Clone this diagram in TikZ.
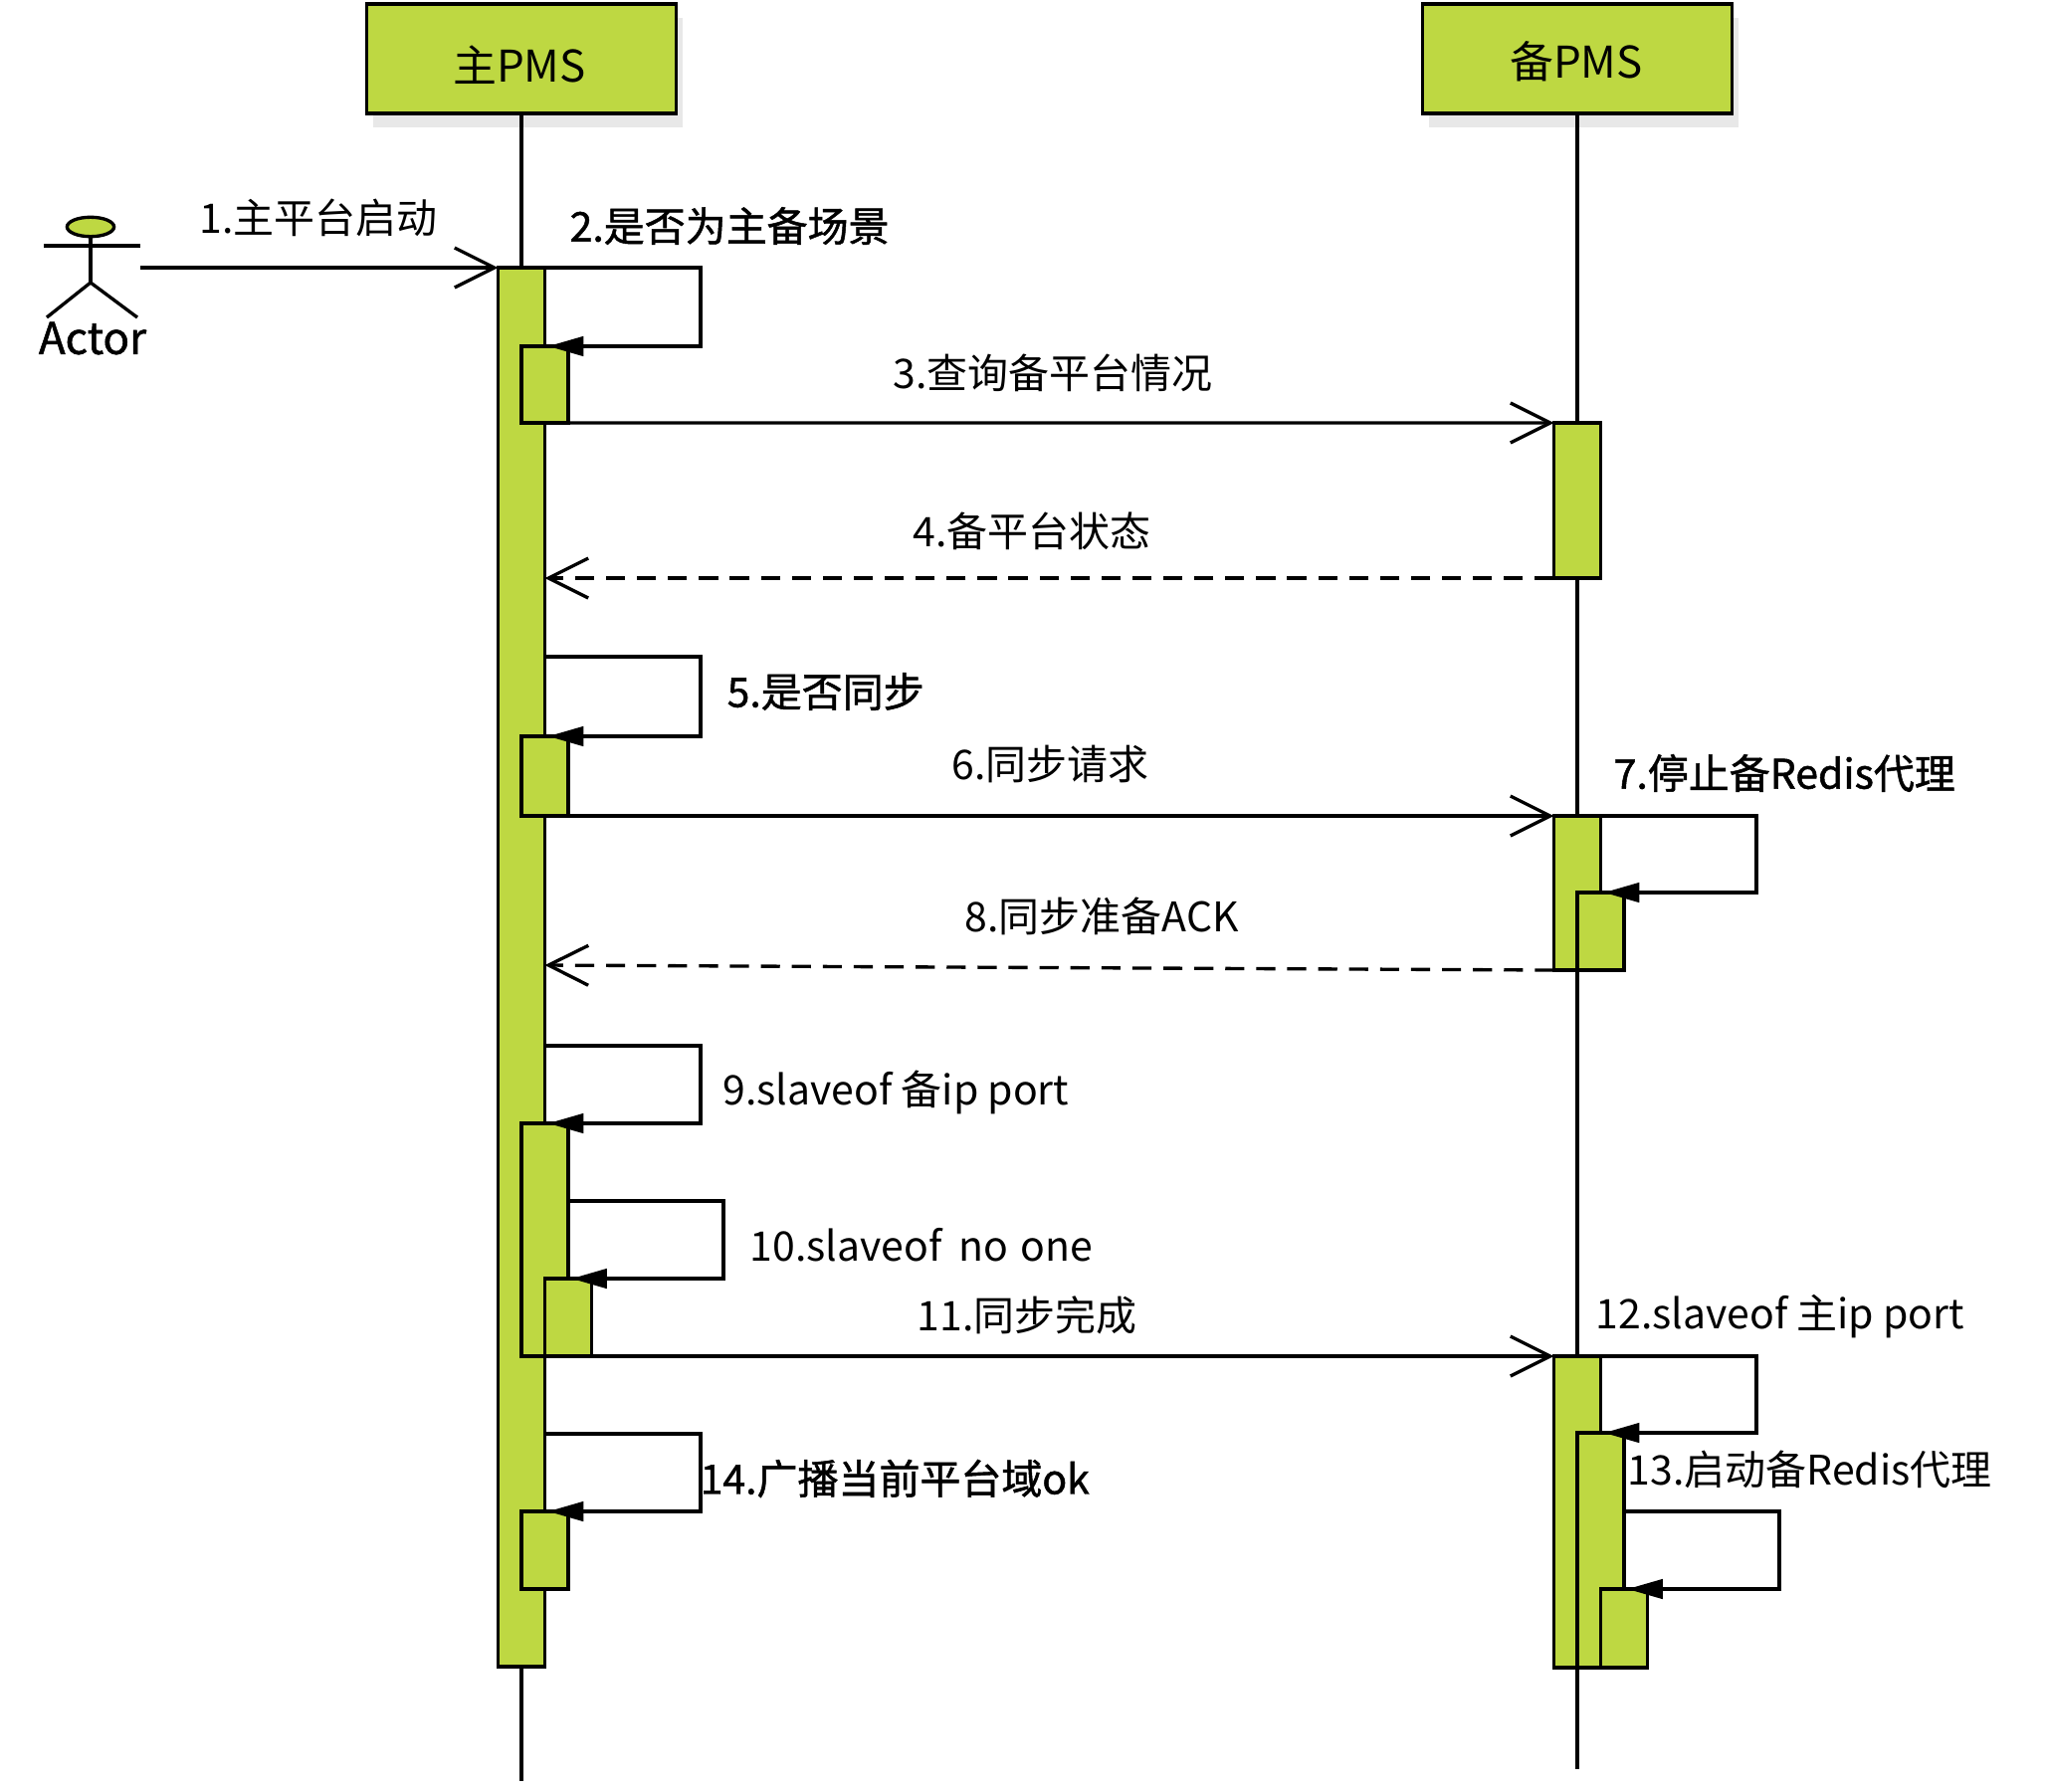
\documentclass[tikz,border=0pt]{standalone}
\usepackage{fontspec}
\usepackage{xcolor}
\setmainfont{Noto Sans CJK SC}
\newfontfamily\heavyfont[FakeBold=1.2]{Noto Sans CJK SC}
\usepackage{tikz}
\usetikzlibrary{arrows.meta,shapes.geometric,shadows}
\definecolor{pmsgreen}{RGB}{190,216,66}
\tikzset{every picture/.style={line width=1.2pt}}
\tikzset{
  headbox/.style={draw,fill=pmsgreen,minimum width=112pt,minimum height=39.6pt,inner sep=0pt,outer sep=0pt,
    drop shadow={shadow xshift=2.4pt,shadow yshift=-5pt,fill=black!9,opacity=1}},
  headname/.style={inner sep=0pt,font=\fontsize{15.8}{18}\selectfont},
  actbar/.style={draw,fill=pmsgreen,minimum width=16.92pt,minimum height=#1*0.36pt,inner sep=0pt,outer sep=0pt,anchor=north},
  callline/.style={-{Straight Barb[length=14.4pt,width=14.4pt]}},
  backline/.style={callline,dash pattern=on 6.9pt off 4.3pt},
  selfline/.style={-{Triangle[length=12.8pt,width=7pt]},shorten >=1.2pt},
  msglabel/.style={anchor=west,inner sep=0pt,font=\fontsize{14.75}{17}\selectfont},
  heavylabel/.style={anchor=west,inner sep=0pt,font=\fontsize{14.75}{17}\heavyfont},
}
\begin{document}
\begin{tikzpicture}[x=0.36pt,y=0.36pt,yscale=-1,xscale=1]
    \useasboundingbox (0,0) rectangle (2057,1800);
    \node (mainpms) at (524,59) [headbox] {};
    \node (backpms) at (1585,59) [headbox] {};
    \node (mainname) at (522,65) [headname] {主PMS};
    \node (backname) at (1584,62) [headname] {备PMS};
    \coordinate (mainend) at (524,1790);
    \coordinate (backend) at (1585,1778);
    \draw (mainpms.south) -- (mainend);
    \draw (backpms.south) -- (backend);
    \node (actorhead) at (91,228) [draw,fill=pmsgreen,ellipse,minimum width=17pt,minimum height=7pt,inner sep=0pt,outer sep=0pt] {};
    \coordinate (actorleft) at (44,247);
    \coordinate (actorright) at (141,247);
    \coordinate (actorhip) at (91,284);
    \coordinate (actorfootl) at (47,319);
    \coordinate (actorfootr) at (138,319);
    \coordinate (actorhand) at (141,269);
    \draw (actorleft) -- (actorright);
    \draw (actorhead.south) -- (actorhip);
    \draw (actorfootl) -- (actorhip) -- (actorfootr);
    \node (actorname) at (93,340) [heavylabel,anchor=center,font=\fontsize{15.8}{17}\heavyfont] {Actor};

    \node (mainbar) at (524,269) [actbar=1406] {};
    \node (query) at (547.5,348) [actbar=77] {};
    \node (syncask) at (547.5,740) [actbar=80] {};
    \node (slavebar) at (547.5,1129) [actbar=234] {};
    \node (noonebar) at (571,1285) [actbar=78] {};
    \node (castbar) at (547.5,1519) [actbar=78] {};
    \node (statebar) at (1585,425) [actbar=156] {};
    \node (stopbar) at (1585,820) [actbar=155] {};
    \node (stopself) at (1608.5,897) [actbar=78] {};
    \node (startbar) at (1585,1363) [actbar=313] {};
    \node (startself) at (1608.5,1440) [actbar=236] {};
    \node (proxybar) at (1632,1597) [actbar=79] {};

    \coordinate (syncfrom) at (547.5,660);
    \coordinate (slavefrom) at (547.5,1051);
    \coordinate (noonefrom) at (571,1207);
    \coordinate (castfrom) at (547.5,1441);
    \coordinate (proxyfrom) at (1632,1519);
    \coordinate (ackto) at (547.5,970);

    \draw [callline] (actorhand) -- (mainbar.north west);
    \draw [selfline] (mainbar.north east) -- ++(156.5,0) |- (query.north);
    \draw [callline] (query.south west) -- (statebar.north west);
    \draw [backline] (statebar.south west) -- (statebar.south west -| mainbar.east);
    \draw [selfline] (syncfrom) -- ++(156.5,0) |- (syncask.north);
    \draw [callline] (syncask.south west) -- (stopbar.north west);
    \draw [selfline] (stopbar.north east) -- ++(156.5,0) |- (stopself.north);
    \draw [backline] (stopbar.south west) -- (ackto);
    \draw [selfline] (slavefrom) -- ++(156.5,0) |- (slavebar.north);
    \draw [selfline] (noonefrom) -- ++(156,0) |- (noonebar.north);
    \draw [callline] (slavebar.south west) -- (startbar.north west);
    \draw [selfline] (startbar.north east) -- ++(156.5,0) |- (startself.north);
    \draw [selfline] (proxyfrom) -- ++(156,0) |- (proxybar.north);
    \draw [selfline] (castfrom) -- ++(156.5,0) |- (castbar.north);

    \node (msga) at (199,219) [msglabel] {1.主平台启动};
    \node (msgb) at (571,227) [heavylabel] {2.是否为主备场景};
    \node (msgc) at (896,375) [msglabel] {3.查询备平台情况};
    \node (msgd) at (916,534) [msglabel] {4.备平台状态};
    \node (msge) at (729,695) [heavylabel] {5.是否同步};
    \node (msgf) at (955,768) [msglabel] {6.同步请求};
    \node (msgg) at (1620,777) [heavylabel] {7.停止备Redis代理};
    \node (msgh) at (968,921) [msglabel] {8.同步准备ACK};
    \node (msgi) at (725,1098) [msglabel] {9.slaveof 备ip port};
    \node (msgj) at (752,1251) [msglabel] {10.slaveof\hspace{3pt} no\hspace{1pt} one};
    \node (msgk) at (920,1322) [msglabel] {11.同步完成};
    \node (msgl) at (1602,1323) [msglabel] {12.slaveof 主ip port};
    \node (msgm) at (1634,1477) [msglabel] {13.启动备Redis代理};
    \node (msgn) at (702,1486) [heavylabel] {14.广播当前平台域ok};
\end{tikzpicture}
\end{document}
